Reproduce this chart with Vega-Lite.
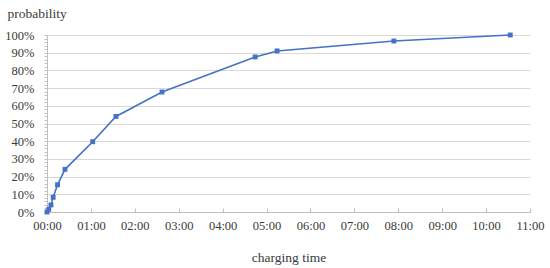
{
  "$schema": "https://vega.github.io/schema/vega-lite/v6.json",
  "width": 483,
  "height": 177,
  "autosize": {"type": "none"},
  "padding": {"left": 47, "top": 35, "right": 20, "bottom": 56},
  "background": "white",
  "config": {
    "view": {"stroke": null},
    "font": "'Liberation Serif', 'DejaVu Serif', serif"
  },
  "data": {
    "values": [
      {"hours": 0.0, "prob": 0.0},
      {"hours": 0.04, "prob": 1.5},
      {"hours": 0.09, "prob": 4.0},
      {"hours": 0.14, "prob": 8.3},
      {"hours": 0.24, "prob": 15.4},
      {"hours": 0.41, "prob": 24.1},
      {"hours": 1.04, "prob": 39.7},
      {"hours": 1.57, "prob": 54.0},
      {"hours": 2.62, "prob": 67.8},
      {"hours": 4.74, "prob": 87.6},
      {"hours": 5.24, "prob": 91.0},
      {"hours": 7.9, "prob": 96.6},
      {"hours": 10.55, "prob": 100.0}
    ]
  },
  "mark": {
    "type": "line",
    "color": "#4472C4",
    "strokeWidth": 1.6,
    "point": {"shape": "square", "size": 24, "filled": true, "color": "#4472C4", "opacity": 1}
  },
  "encoding": {
    "x": {
      "field": "hours",
      "type": "quantitative",
      "scale": {"domain": [0, 11], "nice": false, "zero": true},
      "axis": {
        "values": [0, 1, 2, 3, 4, 5, 6, 7, 8, 9, 10, 11],
        "labelExpr": "(datum.value < 10 ? '0' : '') + datum.value + ':00'",
        "labelFlush": false,
        "labelOverlap": false,
        "labelAlign": "center",
        "grid": false,
        "domainColor": "#bfbfbf",
        "tickColor": "#bfbfbf",
        "tickSize": -4,
        "labelPadding": 11,
        "labelFontSize": 12.5,
        "labelColor": "#3a3a3a",
        "labelFont": "'Liberation Serif', 'DejaVu Serif', serif",
        "title": "charging time",
        "titleFont": "'Liberation Serif', 'DejaVu Serif', serif",
        "titleFontSize": 13.5,
        "titleFontWeight": "normal",
        "titleColor": "#3a3a3a",
        "titleY": 45,
        "titleBaseline": "middle"
      }
    },
    "y": {
      "field": "prob",
      "type": "quantitative",
      "scale": {"domain": [0, 100], "nice": false},
      "axis": {
        "values": [0, 2, 4, 6, 8, 10, 12, 14, 16, 18, 20, 22, 24, 26, 28, 30, 32, 34, 36, 38, 40, 42, 44, 46, 48, 50, 52, 54, 56, 58, 60, 62, 64, 66, 68, 70, 72, 74, 76, 78, 80, 82, 84, 86, 88, 90, 92, 94, 96, 98, 100],
        "labelExpr": "datum.value % 10 == 0 ? datum.value + '%' : ''",
        "labelFlush": false,
        "labelOverlap": false,
        "gridColor": {"condition": {"test": "datum.value % 10 == 0", "value": "#d9d9d9"}, "value": "transparent"},
        "gridWidth": 1,
        "domainColor": "#bfbfbf",
        "tickColor": "#bfbfbf",
        "tickSize": 3,
        "labelPadding": 10,
        "labelFontSize": 12.5,
        "labelColor": "#3a3a3a",
        "labelFont": "'Liberation Serif', 'DejaVu Serif', serif",
        "title": "probability",
        "titleFont": "'Liberation Serif', 'DejaVu Serif', serif",
        "titleFontSize": 13.5,
        "titleFontWeight": "normal",
        "titleColor": "#3a3a3a",
        "titleAngle": 0,
        "titleAlign": "left",
        "titleBaseline": "middle",
        "titleX": -40,
        "titleY": -22
      }
    }
  }
}
